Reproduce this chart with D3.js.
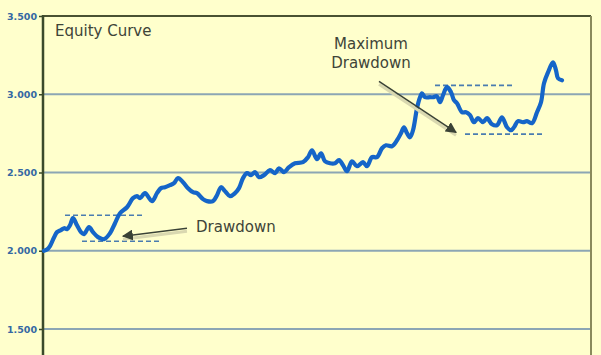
<!DOCTYPE html>
<html>
<head>
<meta charset="utf-8">
<script src="https://cdn.jsdelivr.net/npm/d3@7"></script>
<style>
    body { margin: 0; background: #ffffcc; }
    svg { display: block; font-family: 'DejaVu Sans', Verdana, sans-serif; }
    .tick-label { font-family: 'DejaVu Sans', Verdana, sans-serif; font-size: 9.5px; font-weight: bold; fill: #3568a3; }
    .note { font-size: 15px; fill: #3e4438; }
</style>
</head>
<body>
<div id="chart"></div>
<script>
// trading day index and account equity (thousands)
const days = [0, 3, 6, 10, 13, 17, 20, 23, 26, 29, 33, 37, 40, 45, 49, 54, 60, 66, 71, 76, 83, 89, 93, 96, 101, 108, 113, 117, 121, 126,
    130, 134, 139, 144, 149, 153, 159, 163, 169, 173, 177, 181, 186, 191, 195, 199, 203, 207, 211, 215, 220, 226, 231, 235, 240, 245,
    251, 259, 264, 268, 273, 277, 281, 286, 291, 295, 299, 303, 308, 313, 319, 323, 328, 333, 338, 342, 348, 353, 357, 360, 363, 366,
    369, 373, 376, 378, 381, 386, 389, 393, 396, 399, 403, 407, 410, 413, 418, 422, 426, 430, 434, 439, 443, 448, 453, 458, 463, 467,
    470, 474, 479, 483, 488, 493, 497, 500, 504, 509, 512, 514, 518]
const equity = [2.000, 2.008, 2.030, 2.085, 2.119, 2.132, 2.144, 2.138, 2.163, 2.208, 2.163, 2.119, 2.106, 2.151, 2.119, 2.087, 2.074, 2.112, 2.176, 2.240, 2.278, 2.336, 2.349, 2.336, 2.368, 2.317, 2.368, 2.400, 2.406, 2.419,
    2.432, 2.464, 2.438, 2.400, 2.374, 2.368, 2.330, 2.317, 2.317, 2.355, 2.406, 2.381, 2.349, 2.368, 2.400, 2.464, 2.496, 2.483, 2.502, 2.470, 2.483, 2.515, 2.496, 2.527, 2.502, 2.534,
    2.559, 2.566, 2.598, 2.642, 2.585, 2.623, 2.572, 2.559, 2.559, 2.579, 2.547, 2.508, 2.572, 2.540, 2.566, 2.540, 2.598, 2.598, 2.655, 2.674, 2.668, 2.706, 2.751, 2.789, 2.751, 2.725,
    2.770, 2.911, 2.981, 3.006, 2.981, 2.981, 2.981, 2.987, 2.949, 2.994, 3.045, 3.013, 2.962, 2.943, 2.885, 2.885, 2.866, 2.821, 2.847, 2.821, 2.847, 2.808, 2.802, 2.853, 2.789, 2.770,
    2.789, 2.828, 2.821, 2.828, 2.815, 2.885, 2.949, 3.070, 3.140, 3.204, 3.153, 3.102, 3.089]

const yTicks = [1.5, 2.0, 2.5, 3.0, 3.5]

// dashed peak / trough levels: [start day, end day, value]
const levels = [
    [21, 101, 2.227],
    [38, 118, 2.061],
    [391, 469, 3.057],
    [421, 501, 2.745]
]
// arrows: [from day, from value, to day, to value]
const arrows = [
    [143, 2.144, 79, 2.093],
    [335, 3.083, 412, 2.757]
]
// labels: [day, value, text, anchor]
const labels = [
    [11, 3.370, 'Equity Curve', 'start'],
    [152, 2.119, 'Drawdown', 'start'],
    [327, 3.287, 'Maximum', 'middle'],
    [327, 3.166, 'Drawdown', 'middle']
]

const WIDTH = 601, HEIGHT = 355
const margin = { left: 44, right: 10, top: 16 }

const svg = d3.select('#chart').append('svg')
    .attr('width', WIDTH)
    .attr('height', HEIGHT)

svg.append('rect').attr('width', WIDTH).attr('height', HEIGHT).attr('fill', '#ffffcc')

const xScale = d3.scaleLinear()
    .domain([0, 547])
    .range([margin.left, WIDTH - margin.right])
const yScale = d3.scaleLinear()
    .domain([1.5, 3.5])
    .range([329, margin.top])

const defs = svg.append('defs')
defs.append('marker')
    .attr('id', 'head')
    .attr('viewBox', '0 0 10 10')
    .attr('refX', 9).attr('refY', 5)
    .attr('markerWidth', 11).attr('markerHeight', 11)
    .attr('markerUnits', 'userSpaceOnUse')
    .attr('orient', 'auto')
    .append('path')
    .attr('d', 'M0,0 L10,5 L0,10 Z')
    .attr('fill', '#3a4236')

// grid
svg.append('g').selectAll('line')
    .data(yTicks.filter(d => d < 3.5))
    .join('line')
    .attr('x1', margin.left).attr('x2', WIDTH - margin.right)
    .attr('y1', d => yScale(d)).attr('y2', d => yScale(d))
    .attr('stroke', '#8ca6b4')
    .attr('stroke-width', 2)

// frame: top and right
svg.append('line')
    .attr('x1', margin.left).attr('x2', WIDTH - margin.right)
    .attr('y1', yScale(3.5)).attr('y2', yScale(3.5))
    .attr('stroke', '#4a5232').attr('stroke-width', 2)
svg.append('line')
    .attr('x1', WIDTH - margin.right).attr('x2', WIDTH - margin.right)
    .attr('y1', yScale(3.5)).attr('y2', HEIGHT)
    .attr('stroke', '#8a8a5c').attr('stroke-width', 2)

// y axis
const yAxis = d3.axisLeft(yScale)
    .tickValues(yTicks)
    .tickSize(4)
    .tickPadding(2)
    .tickFormat(d3.format('.3f'))
const axisG = svg.append('g')
    .attr('transform', `translate(${margin.left - 1}, 0)`)
    .call(yAxis)
    .attr('font-family', null)
    .attr('font-size', null)
axisG.select('.domain').remove()
axisG.selectAll('.tick line').attr('stroke', '#3b4a2b').attr('stroke-width', 1.5)
axisG.selectAll('.tick text').attr('class', 'tick-label')
svg.append('line')
    .attr('x1', margin.left - 1).attr('x2', margin.left - 1)
    .attr('y1', yScale(3.5) - 1).attr('y2', HEIGHT)
    .attr('stroke', '#3b4a2b').attr('stroke-width', 2.5)

// dashed levels
svg.append('g').selectAll('line')
    .data(levels)
    .join('line')
    .attr('x1', d => xScale(d[0])).attr('x2', d => xScale(d[1]))
    .attr('y1', d => yScale(d[2])).attr('y2', d => yScale(d[2]))
    .attr('stroke', '#4a7cb0')
    .attr('stroke-width', 1.6)
    .attr('stroke-dasharray', '5,3')

// equity curve
const line = d3.line()
    .x((d, i) => xScale(days[i]))
    .y(d => yScale(d))
    .curve(d3.curveCatmullRom)
svg.append('path')
    .datum(equity)
    .attr('d', line)
    .attr('fill', 'none')
    .attr('stroke', '#1565c8')
    .attr('stroke-width', 4.2)
    .attr('stroke-linejoin', 'round')
    .attr('stroke-linecap', 'round')

// arrows with a soft shadow
svg.append('g').selectAll('line')
    .data(arrows)
    .join('line')
    .attr('x1', d => xScale(d[0])).attr('y1', d => yScale(d[1]) + 3)
    .attr('x2', d => xScale(d[2])).attr('y2', d => yScale(d[3]) + 3)
    .attr('stroke', '#d9d8b0')
    .attr('stroke-width', 3)
svg.append('g').selectAll('line')
    .data(arrows)
    .join('line')
    .attr('x1', d => xScale(d[0])).attr('y1', d => yScale(d[1]))
    .attr('x2', d => xScale(d[2])).attr('y2', d => yScale(d[3]))
    .attr('stroke', '#3a4236')
    .attr('stroke-width', 1.5)
    .attr('marker-end', 'url(#head)')

// text
svg.append('g').selectAll('text')
    .data(labels)
    .join('text')
    .attr('class', 'note')
    .attr('x', d => xScale(d[0]))
    .attr('y', d => yScale(d[1]))
    .attr('text-anchor', d => d[3])
    .text(d => d[2])
</script>
</body>
</html>
